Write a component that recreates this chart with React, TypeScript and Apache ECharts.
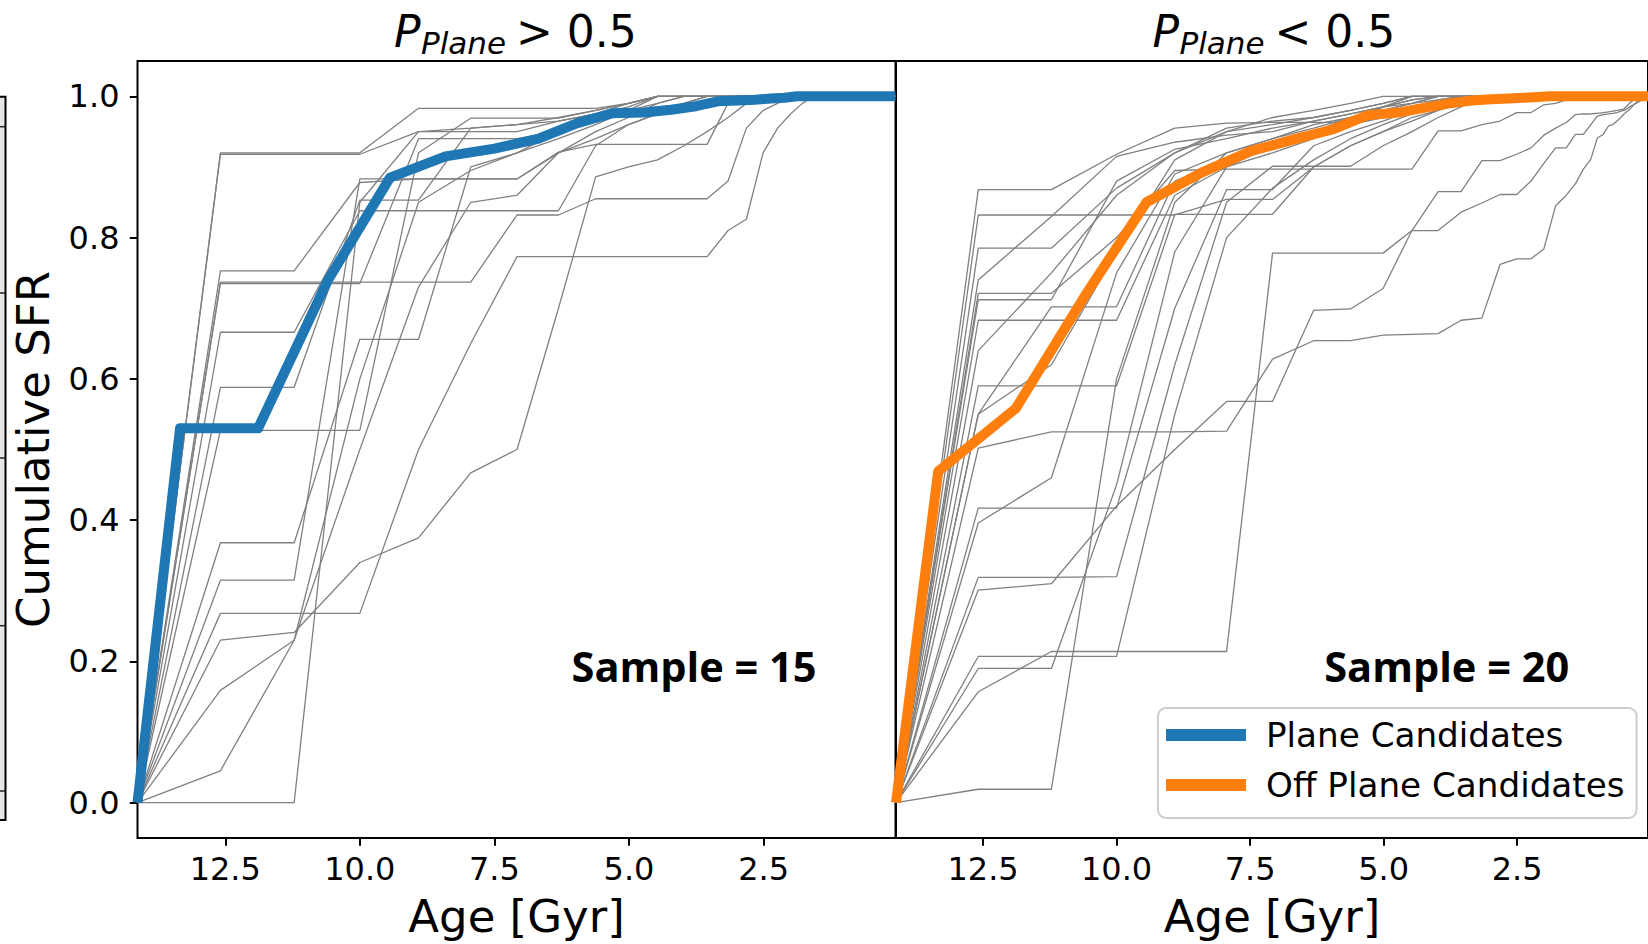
import React, { useEffect, useRef } from "react";
import * as echarts from "echarts";

// ---- data ----
const AGE_GRID = [14.13, 12.59, 11.22, 10.0, 8.91, 7.94, 7.08, 6.31, 5.62, 5.01, 4.47, 3.98, 3.55, 3.16, 2.82, 2.51, 2.24, 2.0, 1.78, 1.58, 1.41, 1.26, 1.12, 1.0, 0.89, 0.79, 0.71, 0.63, 0.56, 0.5, 0.45, 0.4, 0.35, 0.32, 0.28, 0.25];
const AGE_MEAN = [14.13, 13.34, 11.89, 10.59, 9.44, 8.41, 7.5, 6.68, 5.96, 5.31, 4.73, 4.22, 3.76, 3.35, 2.99, 2.66, 2.37, 2.11, 1.88];
const AGE_MIN = 0.05;
const AGE_MAX = 14.13;
const X_TICKS = [12.5, 10.0, 7.5, 5.0, 2.5];
const Y_TICKS = [0, 0.2, 0.4, 0.6, 0.8, 1.0];

const PLANE_MEAN = [0, 0.53, 0.53, 0.74, 0.885, 0.915, 0.926, 0.94, 0.962, 0.976, 0.977, 0.981, 0.986, 0.993, 0.994, 0.995, 0.997, 0.998, 1.0];
const OFF_PLANE_MEAN = [0, 0.469, 0.558, 0.718, 0.85, 0.892, 0.922, 0.939, 0.953, 0.973, 0.977, 0.984, 0.99, 0.994, 0.996, 0.997, 0.998, 0.999, 1.0];

const PLANE_RUNS = [
  [0, 0.92, 0.92, 0.92, 0.983, 0.983, 0.983, 0.983, 0.983, 0.99, 1],
  [0, 0.918, 0.918, 0.918, 0.95, 0.95, 0.95, 0.965, 0.975, 0.99, 1],
  [0, 0.753, 0.753, 0.878, 0.883, 0.883, 0.883, 0.921, 0.932, 0.932, 0.932, 0.932, 0.932, 0.99, 1],
  [0, 0.737, 0.737, 0.737, 0.737, 0.737, 0.832, 0.832, 0.855, 0.855, 0.855, 0.855, 0.855, 0.88, 0.955, 0.98, 0.99, 1],
  [0, 0.735, 0.735, 0.735, 0.94, 0.94, 0.94, 0.95, 0.97, 0.975, 0.98, 0.99, 1],
  [0, 0.666, 0.666, 0.838, 0.838, 0.838, 0.838, 0.838, 0.93, 0.96, 0.975, 0.98, 0.99, 1],
  [0, 0.588, 0.588, 0.853, 0.853, 0.955, 0.96, 0.965, 0.975, 0.985, 1],
  [0, 0.527, 0.527, 0.527, 0.92, 0.969, 0.969, 0.969, 0.98, 0.99, 1],
  [0, 0.368, 0.368, 0.656, 0.656, 0.9, 0.92, 0.95, 0.965, 0.98, 0.99, 1],
  [0, 0.315, 0.315, 0.883, 0.883, 0.883, 0.883, 0.92, 0.94, 0.96, 0.975, 0.99, 1],
  [0, 0.268, 0.268, 0.268, 0.5, 0.65, 0.773, 0.773, 0.773, 0.773, 0.773, 0.773, 0.773, 0.81, 0.826, 0.92, 0.955, 0.975, 0.99, 1],
  [0, 0.23, 0.241, 0.34, 0.375, 0.467, 0.5, 0.7, 0.886, 0.9, 0.91, 0.93, 0.95, 0.97, 0.99, 1],
  [0, 0.159, 0.23, 0.6, 0.85, 0.895, 0.92, 0.94, 0.96, 0.98, 1],
  [0, 0.045, 0.23, 0.5, 0.73, 0.85, 0.86, 0.92, 0.95, 0.97, 0.99, 1],
  [0, 0, 0, 0.85, 0.95, 0.955, 0.96, 0.97, 0.98, 0.99, 1],
];

const OFF_PLANE_RUNS = [
  [0, 0.868, 0.868, 0.918, 0.955, 0.962, 0.963, 0.963, 0.963, 0.985, 0.99, 0.995, 1],
  [0, 0.832, 0.832, 0.832, 0.832, 0.854, 0.854, 0.9, 0.93, 0.95, 0.965, 0.98, 0.99, 1],
  [0, 0.785, 0.785, 0.87, 0.92, 0.955, 0.965, 0.97, 0.98, 0.99, 1],
  [0, 0.74, 0.83, 0.915, 0.935, 0.945, 0.95, 0.965, 0.975, 0.985, 0.995, 1],
  [0, 0.721, 0.721, 0.8, 0.895, 0.897, 0.897, 0.897, 0.897, 0.897, 0.897, 0.951, 0.951, 0.96, 0.965, 0.977, 0.977, 0.988, 0.99, 0.995, 1],
  [0, 0.712, 0.712, 0.88, 0.925, 0.94, 0.955, 0.965, 0.975, 0.985, 0.995, 1],
  [0, 0.683, 0.683, 0.683, 0.86, 0.9, 0.92, 0.94, 0.96, 0.97, 0.985, 0.99, 1],
  [0, 0.59, 0.59, 0.59, 0.833, 0.833, 0.833, 0.9, 0.93, 0.95, 0.97, 0.98, 0.99, 1],
  [0, 0.502, 0.525, 0.525, 0.525, 0.526, 0.628, 0.654, 0.654, 0.662, 0.663, 0.664, 0.683, 0.686, 0.762, 0.77, 0.77, 0.784, 0.845, 0.86, 0.876, 0.897, 0.911, 0.941, 0.946, 0.958, 0.96, 0.965, 0.97, 0.975, 0.978, 0.981, 0.985, 0.988, 0.99, 0.993],
  [0, 0.417, 0.417, 0.417, 0.7, 0.868, 0.868, 0.93, 0.95, 0.965, 0.98, 0.99, 1],
  [0, 0.396, 0.46, 0.75, 0.89, 0.92, 0.94, 0.955, 0.97, 0.98, 0.99, 1],
  [0, 0.55, 0.702, 0.702, 0.88, 0.91, 0.93, 0.95, 0.965, 0.975, 0.985, 0.995, 1],
  [0, 0.319, 0.319, 0.32, 0.62, 0.85, 0.901, 0.901, 0.901, 0.93, 0.95, 0.97, 0.985, 1],
  [0, 0.301, 0.31, 0.42, 0.5, 0.568, 0.568, 0.697, 0.699, 0.728, 0.81, 0.865, 0.865, 0.909, 0.909, 0.918, 0.927, 0.945, 0.955, 0.963, 0.974, 0.975, 0.975, 0.976, 0.977, 0.978, 0.979, 0.98, 0.981, 0.982, 0.986, 0.99, 0.993, 0.995, 0.997, 1],
  [0, 0.207, 0.207, 0.207, 0.55, 0.8, 0.87, 0.91, 0.94, 0.96, 0.975, 0.99, 1],
  [0, 0.19, 0.19, 0.45, 0.78, 0.9, 0.93, 0.95, 0.97, 0.98, 0.99, 1],
  [0, 0.157, 0.214, 0.214, 0.214, 0.214, 0.778, 0.778, 0.778, 0.778, 0.81, 0.81, 0.836, 0.849, 0.861, 0.861, 0.88, 0.905, 0.927, 0.927, 0.946, 0.946, 0.96, 0.972, 0.974, 0.975, 0.976, 0.977, 0.979, 0.98, 0.982, 0.985, 0.987, 0.988, 0.99, 0.991],
  [0, 0.019, 0.019, 0.6, 0.85, 0.92, 0.94, 0.96, 0.97, 0.985, 1],
  [0, 0.64, 0.75, 0.86, 0.92, 0.95, 0.96, 0.97, 0.98, 0.99, 1],
  [0, 0.55, 0.62, 0.78, 0.91, 0.95, 0.97, 0.98, 0.99, 1],
];

const SERIES_NAMES = ["Plane Candidates", "Off Plane Candidates"];
const TITLE_SIGNS = [">", "<"];
const SAMPLE_LABELS = ["Sample = 15", "Sample = 20"];

// ---- styling ----
const FONT = "DejaVu Sans";
const BLUE = "#1f77b4";
const ORANGE = "#ff7f0e";
const GRAY = "#808080";

function toPoints(ages: number[], vals: number[]) {
  const pts = vals.map((v, i) => [ages[i], v]);
  pts.push([AGE_MIN, 1]);
  return pts;
}

export default function App() {
  const ref = useRef<HTMLDivElement>(null);
  useEffect(() => {
    if (!ref.current) return;
    const chart = echarts.init(ref.current, null, { renderer: "svg" });

    const grids = [
      { left: 137.5, top: 61, width: 758, height: 780 },
      { left: 896, top: 61, width: 758, height: 780 },
    ].map((g) => ({ ...g, show: true, borderColor: "#000", borderWidth: 2, backgroundColor: "transparent" }));

    const xAxes = [0, 1].map((i) => ({
      type: "value",
      gridIndex: i,
      position: "bottom",
      inverse: true,
      min: AGE_MIN,
      max: AGE_MAX,
      axisLine: { show: false, onZero: false },
      splitLine: { show: false },
      axisTick: { show: true, inside: false, length: 7.7, lineStyle: { color: "#000", width: 2 }, customValues: X_TICKS },
      axisLabel: {
        customValues: X_TICKS,
        formatter: (v: number) => v.toFixed(1),
        fontFamily: FONT,
        fontSize: 32,
        color: "#000",
        margin: 15,
      },
      name: "Age [Gyr]",
      nameLocation: "middle",
      nameGap: 56,
      nameTextStyle: { fontFamily: FONT, fontSize: 45, color: "#000" },
    }));

    const yAxes = [
      {
        type: "value",
        gridIndex: 0,
        position: "left",
        min: -0.05,
        max: 1.05,
        axisLine: { show: false, onZero: false },
        splitLine: { show: false },
        axisTick: { show: true, inside: false, length: 7.7, lineStyle: { color: "#000", width: 2 }, customValues: Y_TICKS },
        axisLabel: {
          customValues: Y_TICKS,
          formatter: (v: number) => v.toFixed(1),
          fontFamily: FONT,
          fontSize: 32,
          color: "#000",
          margin: 18,
        },
        name: "Cumulative SFR",
        nameLocation: "middle",
        nameGap: 82,
        nameTextStyle: { fontFamily: FONT, fontSize: 45, color: "#000" },
      },
      {
        type: "value",
        gridIndex: 1,
        min: -0.05,
        max: 1.05,
        axisLine: { show: false, onZero: false },
        splitLine: { show: false },
        axisTick: { show: false },
        axisLabel: { show: false },
      },
    ];

    const series: any[] = [];
    [PLANE_RUNS, OFF_PLANE_RUNS].forEach((runs, gi) => {
      runs.forEach((vals) => {
        series.push({
          type: "line",
          xAxisIndex: gi,
          yAxisIndex: gi,
          data: toPoints(AGE_GRID, vals),
          symbol: "none",
          silent: true,
          z: 2,
          lineStyle: { color: GRAY, width: 1.3 },
          itemStyle: { color: GRAY },
        });
      });
    });
    [PLANE_MEAN, OFF_PLANE_MEAN].forEach((vals, gi) => {
      const c = gi === 0 ? BLUE : ORANGE;
      series.push({
        type: "line",
        name: SERIES_NAMES[gi],
        xAxisIndex: gi,
        yAxisIndex: gi,
        data: toPoints(AGE_MEAN, vals),
        symbol: "none",
        z: 5,
        lineStyle: { color: c, width: 10, cap: "butt", join: "round" },
        itemStyle: { color: c },
      });
    });

    const titleGraphic = (dx: number, sym: string) => ({
      type: "group",
      children: [
        { type: "text", x: 394 + dx, y: 31.5, style: { text: "P", fontFamily: FONT, fontStyle: "italic", fontSize: 44, fill: "#000", align: "left", verticalAlign: "middle" } },
        { type: "text", x: 421 + dx, y: 42.6, style: { text: "Plane", fontFamily: FONT, fontStyle: "italic", fontSize: 31, fill: "#000", align: "left", verticalAlign: "middle" } },
        { type: "text", x: 516 + dx, y: 31.5, style: { text: sym + " 0.5", fontFamily: FONT, fontSize: 44, fill: "#000", align: "left", verticalAlign: "middle" } },
      ],
    });

    const stripLines = [126.7, 293, 458, 625.7, 791].map((y) => ({
      type: "line",
      shape: { x1: 0, y1: y, x2: 5.5, y2: y },
      style: { stroke: "#222", lineWidth: 1.5 },
    }));

    const option: any = {
      animation: false,
      backgroundColor: "#fff",
      grid: grids,
      xAxis: xAxes,
      yAxis: yAxes,
      series,
      legend: {
        data: SERIES_NAMES,
        left: 1158,
        top: 708,
        orient: "vertical",
        icon: "rect",
        itemWidth: 80,
        itemHeight: 12,
        itemGap: 12,
        padding: [8, 12, 14, 8],
        borderColor: "#cccccc",
        borderWidth: 2,
        borderRadius: 8,
        backgroundColor: "#fff",
        selectedMode: false,
        textStyle: { fontFamily: FONT, fontSize: 34.2, color: "#000", lineHeight: 38, padding: [0, 0, 0, 15] },
      },
      graphic: [
        titleGraphic(0, TITLE_SIGNS[0]),
        titleGraphic(758.5, TITLE_SIGNS[1]),
        { type: "text", x: 694, y: 666, style: { text: SAMPLE_LABELS[0], fontFamily: "Open Sans", fontWeight: "bold", fontSize: 41.5, fill: "#000", align: "center", verticalAlign: "middle" } },
        { type: "text", x: 1446.7, y: 666, style: { text: SAMPLE_LABELS[1], fontFamily: "Open Sans", fontWeight: "bold", fontSize: 41.5, fill: "#000", align: "center", verticalAlign: "middle" } },
        { type: "rect", shape: { x: -1, y: 96.7, width: 6.5, height: 723.3 }, style: { fill: "#e6e6e6", stroke: "#000", lineWidth: 2 } },
        ...stripLines,
      ],
    };
    chart.setOption(option);
    return () => chart.dispose();
  }, []);

  return (
    <div
      ref={ref}
      style={{ position: "fixed", left: 0, top: 0, width: 1648, height: 944, background: "#fff" }}
    />
  );
}
